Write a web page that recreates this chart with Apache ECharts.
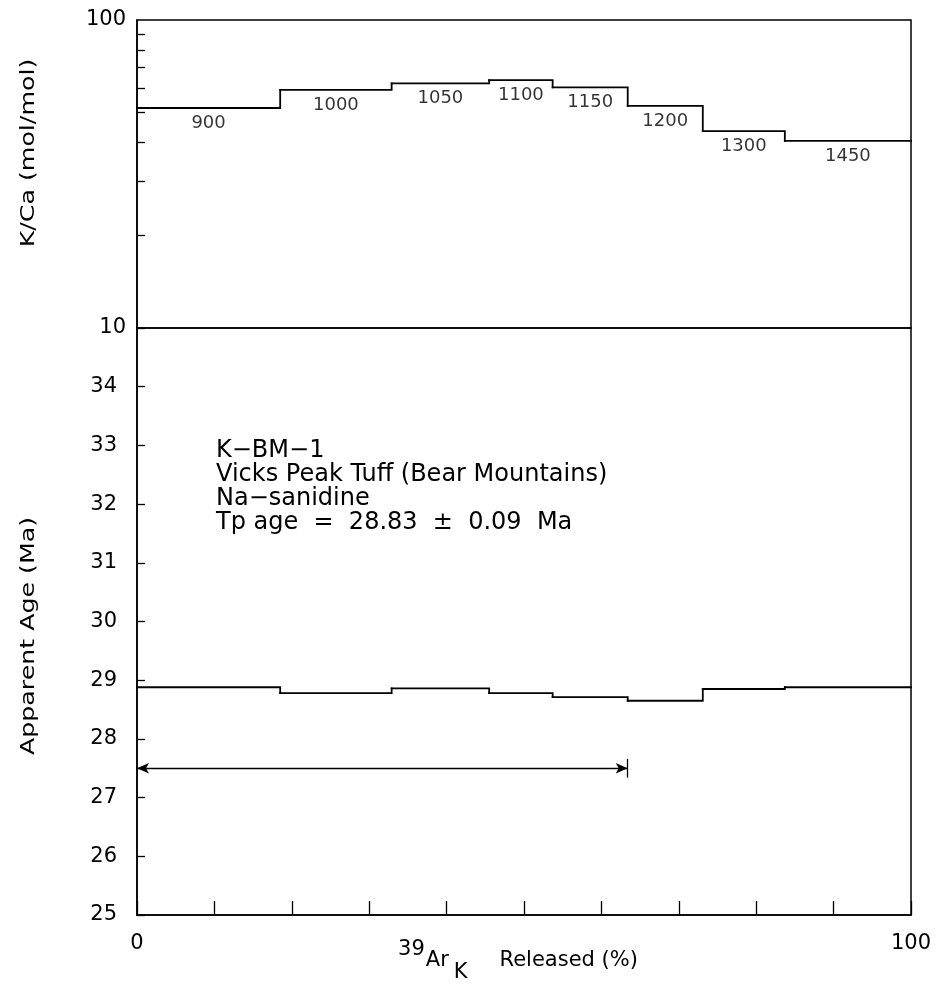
<!DOCTYPE html>
<html>
<head>
<meta charset="utf-8">
<script src="https://cdn.jsdelivr.net/npm/echarts@6/dist/echarts.min.js"></script>
<style>
  html, body { margin: 0; padding: 0; background: #fff; }
  #chart { width: 940px; height: 991px; }
</style>
</head>
<body>
<div id="chart"></div>
<script>
// Cumulative 39ArK released (%) at the boundaries of each heating step
const stepEdges = [0, 18.5, 32.9, 45.5, 53.7, 63.4, 73.1, 83.7, 100];
// Furnace temperature of each step (°C)
const stepTemps = ['900', '1000', '1050', '1100', '1150', '1200', '1300', '1450'];
// K/Ca (mol/mol) per step
const kCaRatio = [51.8, 59.3, 62.3, 63.8, 60.4, 52.6, 43.6, 40.5];
// Apparent age (Ma) per step
const apparentAge = [28.88, 28.78, 28.86, 28.78, 28.71, 28.65, 28.85, 28.88];
// Steps included in the plateau (edge indices) and the level the bracket is drawn at
const plateauEdges = [0, 5];
const plateauLevel = 27.5;
// Axis ticks and labels
const kCaMinorTicks = [20, 30, 40, 50, 60, 70, 80, 90];
const kCaTickLabels = [10, 100];
const ageRange = [25, 35];
const releasedTickLabels = [0, 100];
// Sample annotation
const sampleInfo = [
  'K\u2212BM\u22121',
  'Vicks Peak Tuff (Bear Mountains)',
  'Na\u2212sanidine',
  'Tp age  =  28.83  \u00b1  0.09  Ma'
];

const FONT = 'DejaVu Sans';
const INK = '#000';

// One record per step: [start %, end %, value, value of the following step]
function stepRecords(values) {
  return values.map((v, i) => [
    stepEdges[i], stepEdges[i + 1], v,
    i < values.length - 1 ? values[i + 1] : v
  ]);
}
// Temperature labels sitting at the centre of each step
function stepLabels(values) {
  return values.map((v, i) => ({
    name: stepTemps[i],
    value: [(stepEdges[i] + stepEdges[i + 1]) / 2, v]
  }));
}
// Draws a step's horizontal run and the riser into the next step
function renderStep(params, api) {
  const x0 = api.value(0), x1 = api.value(1);
  const v = api.value(2), vNext = api.value(3);
  return {
    type: 'polyline',
    silent: true,
    shape: { points: [api.coord([x0, v]), api.coord([x1, v]), api.coord([x1, vNext])] },
    style: { stroke: INK, lineWidth: 1.8, fill: null, lineCap: 'square', lineJoin: 'miter' }
  };
}

const chart = echarts.init(document.getElementById('chart'), null, { renderer: 'canvas' });

const axisLineStyle = { color: INK, width: 1.5 };
const tickStyle = { color: INK, width: 1.3 };
const labelStyle = { color: INK, fontSize: 21, fontFamily: FONT };

// Rotated axis titles, stretched along the text to the wide plotter lettering
function axisTitle(text, x, y) {
  return {
    type: 'text', x: x, y: y, rotation: Math.PI / 2, scaleX: 1.33, silent: true,
    style: { text: text, fill: INK, font: '19px "DejaVu Sans"', align: 'center', verticalAlign: 'middle' }
  };
}

const option = {
  backgroundColor: '#fff',
  animation: false,
  grid: [
    { left: 137, right: 29, top: 20, height: 308, outerBoundsMode: 'none', containLabel: false,
      show: true, borderColor: INK, borderWidth: 1.5, backgroundColor: 'transparent' },
    { left: 137, right: 29, top: 328, bottom: 76, outerBoundsMode: 'none', containLabel: false,
      show: true, borderColor: INK, borderWidth: 1.5, backgroundColor: 'transparent' }
  ],
  xAxis: [
    {
      gridIndex: 0, type: 'value', min: 0, max: 100,
      axisLine: { show: false }, axisTick: { show: false },
      axisLabel: { show: false }, splitLine: { show: false }
    },
    {
      gridIndex: 1, type: 'value', min: 0, max: 100, interval: 10,
      axisLine: { show: true, lineStyle: axisLineStyle },
      axisTick: { show: true, inside: true, length: 14, lineStyle: tickStyle },
      axisLabel: Object.assign({ customValues: releasedTickLabels, margin: 18 }, labelStyle),
      splitLine: { show: false }
    }
  ],
  yAxis: [
    {
      gridIndex: 0, type: 'log', logBase: 10, min: 10, max: 100,
      axisLine: { show: true, lineStyle: axisLineStyle },
      axisTick: { show: true, inside: true, length: 8, customValues: kCaMinorTicks, lineStyle: tickStyle },
      axisLabel: Object.assign({ customValues: kCaTickLabels, margin: 11 }, labelStyle),
      splitLine: { show: false }
    },
    {
      gridIndex: 1, type: 'value', min: ageRange[0], max: ageRange[1], interval: 1,
      axisLine: { show: true, lineStyle: axisLineStyle },
      axisTick: { show: true, inside: true, length: 8, lineStyle: tickStyle },
      axisLabel: Object.assign({
        margin: 20,
        formatter: v => (v === ageRange[1] ? '' : String(v))
      }, labelStyle),
      splitLine: { show: false }
    }
  ],
  series: [
    {
      type: 'custom', xAxisIndex: 0, yAxisIndex: 0, silent: true,
      encode: { x: [0, 1], y: [2, 3] },
      renderItem: renderStep,
      data: stepRecords(kCaRatio)
    },
    {
      type: 'scatter', xAxisIndex: 0, yAxisIndex: 0,
      symbolSize: 0, silent: true,
      label: {
        show: true, position: 'bottom', distance: 6, formatter: '{b}',
        color: INK, fontSize: 18, fontFamily: FONT
      },
      data: stepLabels(kCaRatio)
    },
    {
      type: 'custom', xAxisIndex: 1, yAxisIndex: 1, silent: true,
      encode: { x: [0, 1], y: [2, 3] },
      renderItem: renderStep,
      data: stepRecords(apparentAge)
    },
    {
      // Plateau bracket
      type: 'line', xAxisIndex: 1, yAxisIndex: 1, silent: true,
      data: [],
      markLine: {
        silent: true,
        symbol: ['arrow', 'arrow'],
        symbolSize: [8, 12],
        label: { show: false },
        lineStyle: { type: 'solid', color: INK, width: 1.3 },
        emphasis: { disabled: true },
        data: [
          [
            { coord: [stepEdges[plateauEdges[0]], plateauLevel] },
            { coord: [stepEdges[plateauEdges[1]], plateauLevel] }
          ],
          [
            { coord: [stepEdges[plateauEdges[1]], plateauLevel - 0.16], symbol: 'none' },
            { coord: [stepEdges[plateauEdges[1]], plateauLevel + 0.16], symbol: 'none' }
          ]
        ]
      }
    }
  ],
  graphic: [
    axisTitle('K/Ca (mol/mol)', 29, 153),
    axisTitle('Apparent Age (Ma)', 29, 636),
    {
      type: 'text', x: 518, y: 961, silent: true,
      style: {
        text: '{sup|39}{base|Ar}{sub|K}{tail|Released (%)}',
        align: 'center', verticalAlign: 'middle',
        rich: {
          sup: { fontSize: 21, fontFamily: FONT, fill: INK, lineHeight: 32, verticalAlign: 'top', padding: [0, 1, 0, 0] },
          base: { fontSize: 21, fontFamily: FONT, fill: INK, lineHeight: 44 },
          sub: { fontSize: 21, fontFamily: FONT, fill: INK, lineHeight: 12, verticalAlign: 'bottom', padding: [0, 32, 0, 5] },
          tail: { fontSize: 21, fontFamily: FONT, fill: INK, lineHeight: 44 }
        }
      }
    }
  ].concat(sampleInfo.map((line, i) => ({
    type: 'text', x: 216, y: 451 + i * 24, silent: true,
    style: { text: line, fill: INK, font: '24px "DejaVu Sans"', align: 'left', verticalAlign: 'middle' }
  })))
};

chart.setOption(option);
</script>
</body>
</html>
